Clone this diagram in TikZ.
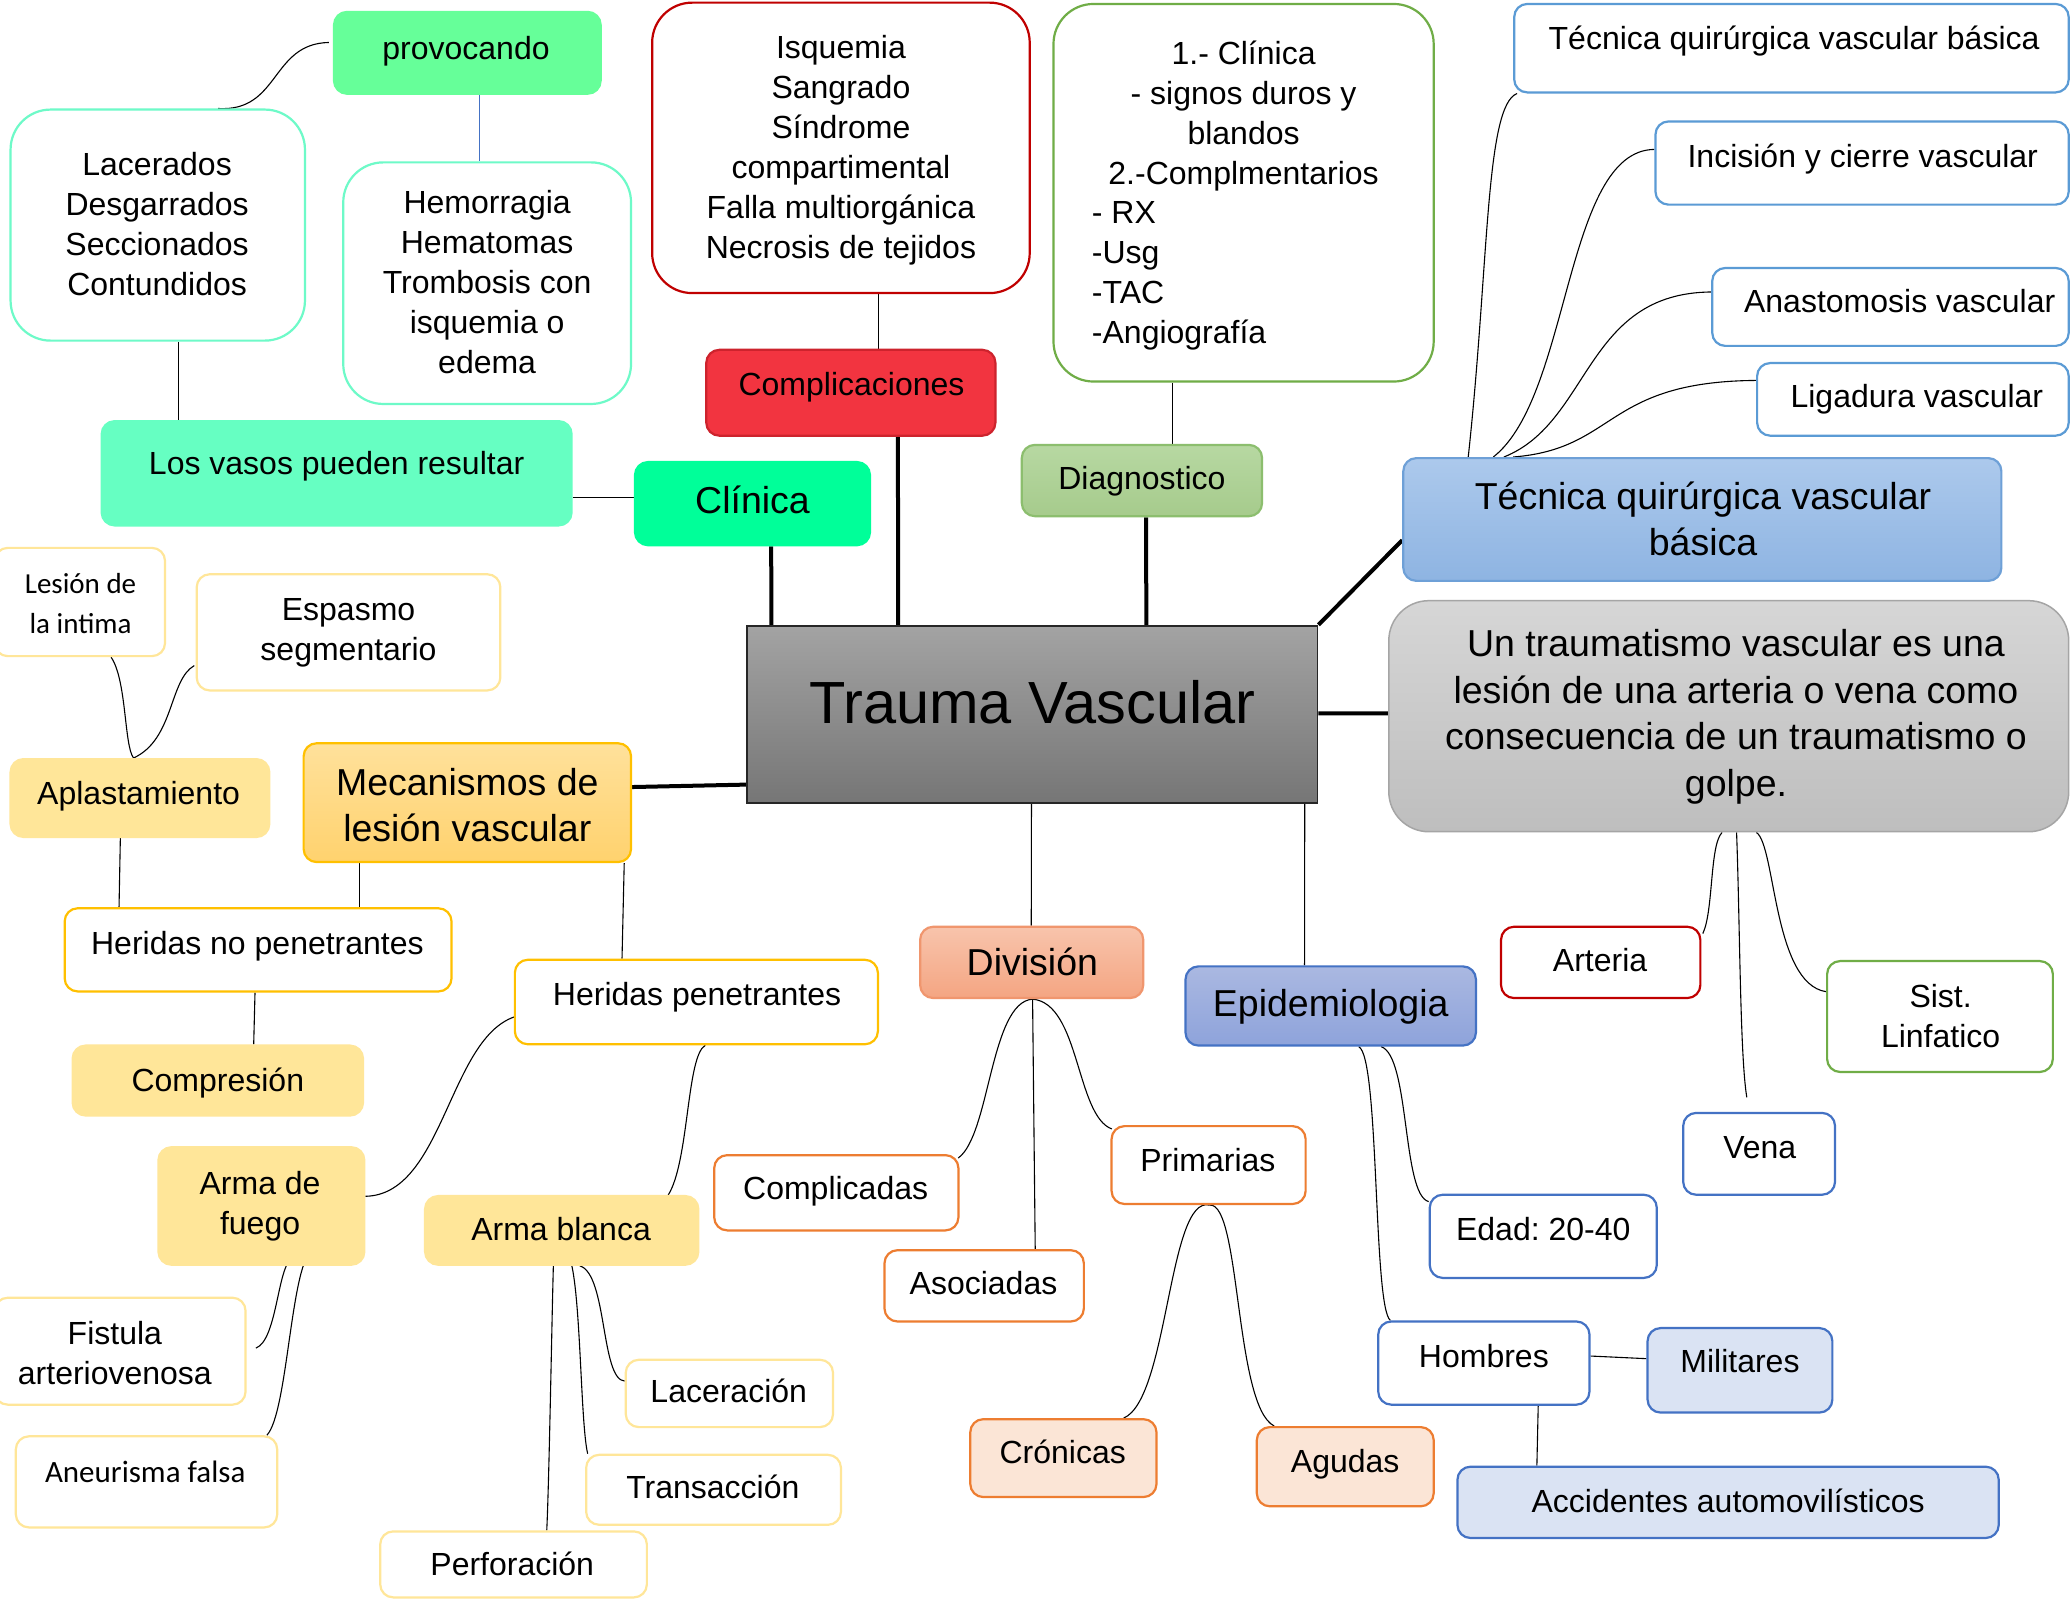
\documentclass[tikz,border=0pt]{standalone}
\usepackage{fontspec}
\setmainfont{Liberation Sans}
\newfontfamily\calfont{Carlito}
\usetikzlibrary{fit,calc}
\pgfdeclarelayer{bg}
\pgfsetlayers{bg,main}
\frenchspacing
\definecolor{provg}{RGB}{102,255,153}
\definecolor{aquab}{RGB}{110,250,200}
\definecolor{vasosf}{RGB}{102,255,194}
\definecolor{clinf}{RGB}{0,255,153}
\definecolor{darkred}{RGB}{192,0,0}
\definecolor{complf}{RGB}{242,52,64}
\definecolor{complb}{RGB}{205,35,45}
\definecolor{greenb}{RGB}{112,173,71}
\definecolor{diagt}{RGB}{183,216,162}
\definecolor{diagbot}{RGB}{166,203,140}
\definecolor{diagd}{RGB}{140,190,110}
\definecolor{lblueb}{RGB}{91,155,213}
\definecolor{tqbt}{RGB}{172,201,236}
\definecolor{tqbb}{RGB}{142,180,226}
\definecolor{tqbd}{RGB}{110,160,215}
\definecolor{traut}{RGB}{163,163,163}
\definecolor{traub}{RGB}{118,118,118}
\definecolor{untrt}{RGB}{214,214,214}
\definecolor{untrb}{RGB}{190,190,190}
\definecolor{untrd}{RGB}{165,165,165}
\definecolor{lyel}{RGB}{255,230,153}
\definecolor{goldb}{RGB}{255,192,0}
\definecolor{mect}{RGB}{255,225,155}
\definecolor{mecb}{RGB}{255,210,110}
\definecolor{divt}{RGB}{248,196,172}
\definecolor{divb}{RGB}{244,165,130}
\definecolor{divd}{RGB}{240,150,110}
\definecolor{orangeb}{RGB}{237,125,49}
\definecolor{lorange}{RGB}{251,229,214}
\definecolor{epit}{RGB}{170,184,225}
\definecolor{epib}{RGB}{142,163,219}
\definecolor{blueb}{RGB}{68,114,196}
\definecolor{lbluef}{RGB}{218,227,243}
\tikzset{
  bx/.style={inner sep=0pt, line width=2.2pt, rounded corners=13pt},
  bigr/.style={rounded corners=40pt},
  txt/.style={inner sep=0pt, align=center, font=\fontsize{32}{40}\selectfont},
  stxt/.style={txt, text height=23pt, text depth=0pt},
  ltxt/.style={inner sep=0pt, align=center, font=\fontsize{37.5}{46.5}\selectfont},
  sltxt/.style={ltxt, text height=27pt, text depth=0pt},
  con/.style={line width=1.1pt, draw=black},
  boldcon/.style={line width=4pt, draw=black},
}
\begin{document}
\begin{tikzpicture}[x=1.3202pt, y=-1.3202pt]
\begin{pgfonlayer}{bg}\fill[white] (0,0) rectangle (1568,1211);\end{pgfonlayer}
\useasboundingbox (0,0) rectangle (1568,1211);

% ---- top left (Clinica branch)
\node[bx, draw=provg, fill=provg, fit={(253,9)(455,71)}] (prov) {};
\node[stxt] (prov-t) at (353,36) {provocando};
\node[bx, bigr, draw=aquab, fill=white, fit={(8,83)(231,258)}] (lac) {};
\node[txt] (lac-t) at (119,170) {Lacerados\\Desgarrados\\Seccionados\\Contundidos};
\node[bx, bigr, draw=aquab, fill=white, fit={(260,123)(478,306)}] (hem) {};
\node[txt] (hem-t) at (369,214) {Hemorragia\\Hematomas\\Trombosis con\\isquemia o\\edema};
\node[bx, draw=vasosf, fill=vasosf, fit={(77,319)(433,398)}] (vasos) {};
\node[stxt] (vasos-t) at (255,351) {Los vasos pueden resultar};
\node[bx, draw=clinf, fill=clinf, fit={(481,350)(659,413)}] (clin) {};
\node[sltxt] (clin-t) at (570,379) {Clínica};

% ---- complicaciones / diagnostico
\node[bx, bigr, draw=darkred, fill=white, fit={(494,2)(780,222)}] (isq) {};
\node[txt] (isq-t) at (637,114) {Isquemia\\Sangrado\\Síndrome\\compartimental\\Falla multiorgánica\\Necrosis de tejidos};
\node[bx, draw=complb, fill=complf, fit={(535,265)(754,330)}] (compl) {};
\node[stxt] (compl-t) at (645,291) {Complicaciones};
\node[bx, bigr, draw=greenb, fill=white, fit={(798,3)(1086,289)}] (dinfo) {};
\node[txt] (dinfo-a) at (942,88) {1.- Clínica\\- signos duros y\\blandos\\2.-Complmentarios};
\node[txt, align=left, anchor=west] (dinfo-b) at (827,209) {- RX\\-Usg\\-TAC\\-Angiografía};
\node[bx, draw=diagd, top color=diagt, bottom color=diagbot, fit={(774,337)(956,391)}] (diagn) {};
\node[stxt] (diagn-t) at (865,362) {Diagnostico};

% ---- tecnica
\node[bx, draw=lblueb, fill=white, fit={(1147,3)(1567,70)}] (tq1) {};
\node[stxt] (tq1-t) at (1359,29) {Técnica quirúrgica vascular básica};
\node[bx, draw=lblueb, fill=white, fit={(1254,92)(1567,155)}] (tq2) {};
\node[stxt] (tq2-t) at (1411,118) {Incisión y cierre vascular};
\node[bx, draw=lblueb, fill=white, fit={(1297,203)(1567,262)}] (tq3) {};
\node[stxt] (tq3-t) at (1439,228) {Anastomosis vascular};
\node[bx, draw=lblueb, fill=white, fit={(1331,275)(1567,330)}] (tq4) {};
\node[stxt] (tq4-t) at (1452,300) {Ligadura vascular};
\node[bx, draw=tqbd, top color=tqbt, bottom color=tqbb, fit={(1063,347)(1516,440)}] (tqb) {};
\node[ltxt] (tqb-t) at (1290,393) {Técnica quirúrgica vascular\\básica};

% ---- centre
\node[inner sep=0pt, line width=1.8pt, draw=black!85, top color=traut, bottom color=traub, fit={(566,474)(998,608)}] (trauma) {};
\node[inner sep=0pt, font=\fontsize{59.5}{70}\selectfont] (trauma-t) at (782,532) {Trauma Vascular};
\node[bx, rounded corners=40pt, line width=1.5pt, draw=untrd, top color=untrt, bottom color=untrb, fit={(1052,455)(1567,630)}] (untr) {};
\node[ltxt] (untr-t) at (1315,543) {Un traumatismo vascular es una\\lesión de una arteria o vena como\\consecuencia de un traumatismo o\\golpe.};

% ---- mecanismos
\node[bx, draw=lyel, fill=white, fit={(-4,415)(125,497)}] (lesion) {};
\node[inner sep=0pt, align=center, font=\calfont\fontsize{29}{40}\selectfont] (lesion-t) at (61,457) {Lesión de\\la intima};
\node[bx, draw=lyel, fill=white, fit={(149,435)(379,523)}] (espasmo) {};
\node[txt] (espasmo-t) at (264,479.5) {Espasmo\\segmentario};
\node[bx, draw=lyel, fill=lyel, fit={(8,575)(204,634)}] (aplas) {};
\node[stxt] (aplas-t) at (105,601) {Aplastamiento};
\node[bx, draw=goldb, top color=mect, bottom color=mecb, fit={(230,563)(478,653)}] (mecan) {};
\node[ltxt] (mecan-t) at (354,610) {Mecanismos de\\lesión vascular};
\node[bx, draw=goldb, fill=white, fit={(49,688)(342,751)}] (hnp) {};
\node[stxt] (hnp-t) at (195,714) {Heridas no penetrantes};
\node[bx, draw=lyel, fill=lyel, fit={(55,792)(275,845)}] (compr) {};
\node[stxt] (compr-t) at (165,818) {Compresión};
\node[bx, draw=goldb, fill=white, fit={(390,727)(665,791)}] (hp) {};
\node[stxt] (hp-t) at (528,753) {Heridas penetrantes};
\node[bx, draw=lyel, fill=lyel, fit={(120,869)(276,958)}] (fuego) {};
\node[txt] (fuego-t) at (197,914) {Arma de\\fuego};
\node[bx, draw=lyel, fill=lyel, fit={(322,906)(529,958)}] (blanca) {};
\node[stxt] (blanca-t) at (425,931) {Arma blanca};
\node[bx, draw=lyel, fill=white, fit={(-4,983)(186,1064)}] (fistula) {};
\node[txt] (fistula-t) at (87,1025) {Fistula\\arteriovenosa};
\node[bx, draw=lyel, fill=white, fit={(12,1088)(210,1157)}] (aneur) {};
\node[inner sep=0pt, font=\calfont\fontsize{31}{40}\selectfont] (aneur-t) at (110,1115) {Aneurisma falsa};
\node[bx, draw=lyel, fill=white, fit={(474,1030)(631,1081)}] (lacer) {};
\node[stxt] (lacer-t) at (552,1054) {Laceración};
\node[bx, draw=lyel, fill=white, fit={(444,1102)(637,1155)}] (trans) {};
\node[stxt] (trans-t) at (540,1126) {Transacción};
\node[bx, draw=lyel, fill=white, fit={(288,1160)(490,1210)}] (perf) {};
\node[stxt] (perf-t) at (388,1185) {Perforación};

% ---- division
\node[bx, draw=divd, top color=divt, bottom color=divb, fit={(697,702)(866,756)}] (divi) {};
\node[sltxt] (divi-t) at (782,729) {División};
\node[bx, draw=orangeb, fill=white, fit={(541,875)(726,932)}] (compli) {};
\node[stxt] (compli-t) at (633,900) {Complicadas};
\node[bx, draw=orangeb, fill=white, fit={(670,947)(821,1001)}] (asoc) {};
\node[stxt] (asoc-t) at (745,972) {Asociadas};
\node[bx, draw=orangeb, fill=white, fit={(842,853)(989,912)}] (prim) {};
\node[stxt] (prim-t) at (915,879) {Primarias};
\node[bx, draw=orangeb, fill=lorange, fit={(735,1075)(876,1134)}] (cron) {};
\node[stxt] (cron-t) at (805,1100) {Crónicas};
\node[bx, draw=orangeb, fill=lorange, fit={(952,1081)(1086,1141)}] (agud) {};
\node[stxt] (agud-t) at (1019,1107) {Agudas};

% ---- epidemiologia
\node[bx, draw=blueb, top color=epit, bottom color=epib, fit={(898,732)(1118,792)}] (epid) {};
\node[sltxt] (epid-t) at (1008,760) {Epidemiologia};
\node[bx, draw=blueb, fill=white, fit={(1083,905)(1255,968)}] (edad) {};
\node[stxt] (edad-t) at (1169,931) {Edad: 20-40};
\node[bx, draw=blueb, fill=white, fit={(1044,1001)(1204,1064)}] (homb) {};
\node[stxt] (homb-t) at (1124,1027) {Hombres};
\node[bx, draw=blueb, fill=lbluef, fit={(1248,1006)(1388,1070)}] (milit) {};
\node[stxt] (milit-t) at (1318,1031) {Militares};
\node[bx, draw=blueb, fill=lbluef, fit={(1104,1111)(1514,1165)}] (accid) {};
\node[stxt] (accid-t) at (1309,1137) {Accidentes automovilísticos};

% ---- vessels
\node[bx, draw=darkred, fill=white, fit={(1137,702)(1288,756)}] (arteria) {};
\node[stxt] (arteria-t) at (1212,727) {Arteria};
\node[bx, draw=blueb, fill=white, fit={(1275,843)(1390,905)}] (vena) {};
\node[stxt] (vena-t) at (1333,869) {Vena};
\node[bx, draw=greenb, fill=white, fit={(1384,728)(1555,812)}] (sist) {};
\node[txt] (sist-t) at (1470,770) {Sist.\\Linfatico};

% ---- connectors
\begin{pgfonlayer}{bg}
\draw[con, draw=blueb] ($(prov.south west)+(111,0)$) -- ($(hem.north west)+(104,0)$);
\draw[con] ($(prov.north west)+(-3,24)$) .. controls (205,33) and (212,85) .. ($(lac.north west)+(158,0)$);
\draw[con] ($(lac.south west)+(128,0)$) -- ($(vasos.north west)+(59,0)$);
\draw[con] ($(vasos.south east)+(0,-22)$) -- ($(clin.south west)+(0,-37)$);
\draw[boldcon] ($(clin.south west)+(104,0)$) -- ($(trauma.north west)+(19,0)$);
\draw[con] ($(isq.south west)+(172,0)$) -- ($(compl.north west)+(131,0)$);
\draw[boldcon] ($(compl.south west)+(146,0)$) -- ($(trauma.north west)+(115,0)$);
\draw[con] ($(dinfo.south west)+(91,0)$) -- ($(diagn.north west)+(115,0)$);
\draw[boldcon] ($(diagn.south west)+(95,0)$) -- ($(trauma.north west)+(303,0)$);
\draw[boldcon] (trauma.north east) -- ($(tqb.north west)+(0,63)$);
\draw[boldcon] ($(trauma.north east)+(0,67)$) -- ($(untr.north west)+(0,86)$);
\draw[boldcon] ($(mecan.north east)+(0,34)$) -- ($(trauma.north west)+(0,121)$);
\draw[con] ($(tqb.north west)+(50,0)$) .. controls (1128,200) and (1125,80) .. ($(tq1.south west)+(3,0)$);
\draw[con] ($(tqb.north west)+(69,0)$) .. controls (1190,300) and (1185,114) .. ($(tq2.north west)+(0,22)$);
\draw[con] ($(tqb.north west)+(77,0)$) .. controls (1205,320) and (1200,222) .. ($(tq3.north west)+(0,19)$);
\draw[con] ($(tqb.north west)+(84,0)$) .. controls (1225,340) and (1215,289) .. ($(tq4.north west)+(0,14)$);
\draw[con] ($(lesion.south west)+(89,0)$) .. controls (96,515) and (94,565) .. ($(aplas.north west)+(94,0)$);
\draw[con] ($(espasmo.north west)+(-1,70)$) .. controls (128,515) and (132,560) .. ($(aplas.north west)+(94,0)$);
\draw[con] ($(aplas.south west)+(84,0)$) -- ($(hnp.north west)+(42,0)$);
\draw[con] ($(mecan.south west)+(43,-6)$) -- ($(hnp.north west)+(224,0)$);
\draw[con] ($(hnp.south west)+(145,0)$) -- ($(compr.north west)+(138,0)$);
\draw[con] ($(mecan.south east)+(-6,0)$) -- ($(hp.north west)+(82,0)$);
\draw[con] ($(hp.north west)+(12,42)$) .. controls (340,770) and (340,905) .. ($(fuego.north east)+(0,38)$);
\draw[con] ($(hp.south west)+(145,0)$) .. controls (520,800) and (522,880) .. ($(blanca.north west)+(185,0)$);
\draw[con] ($(fuego.south west)+(102,-6)$) .. controls (210,960) and (210,1015) .. ($(fistula.north east)+(7,39)$);
\draw[con] ($(fuego.south west)+(117,-12)$) .. controls (220,960) and (218,1070) .. ($(aneur.north west)+(191,0)$);
\draw[con] ($(blanca.south west)+(98,0)$) .. controls (418,1000) and (416,1120) .. ($(perf.north west)+(127,0)$);
\draw[con] ($(blanca.south west)+(112,0)$) .. controls (440,990) and (440,1080) .. ($(trans.north west)+(2,0)$);
\draw[con] ($(blanca.south west)+(118,0)$) .. controls (460,965) and (455,1045) .. ($(lacer.north west)+(0,17)$);
\draw[con] ($(trauma.south west)+(216,0)$) -- ($(divi.north west)+(85,0)$);
\draw[con] ($(trauma.south west)+(423,0)$) -- ($(epid.north west)+(91,0)$);
\draw[con] ($(divi.south west)+(86,0)$) .. controls (750,759) and (750,860) .. ($(compli.north east)+(-1,3)$);
\draw[con] ($(divi.south west)+(86,0)$) -- ($(asoc.north west)+(115,0)$);
\draw[con] ($(divi.south west)+(86,0)$) .. controls (818,760) and (815,845) .. ($(prim.north west)+(1,3)$);
\draw[con] ($(prim.south west)+(75,0)$) .. controls (885,905) and (885,1060) .. ($(cron.north west)+(117,0)$);
\draw[con] ($(prim.south west)+(75,0)$) .. controls (940,910) and (935,1065) .. ($(agud.north west)+(14,0)$);
\draw[con] ($(epid.south west)+(132,0)$) .. controls (1045,800) and (1040,990) .. ($(homb.north west)+(10,0)$);
\draw[con] ($(epid.south west)+(149,0)$) .. controls (1068,800) and (1062,905) .. ($(edad.north west)+(0,6)$);
\draw[con] ($(homb.north east)+(0,27)$) -- ($(milit.north west)+(0,24)$);
\draw[con] ($(homb.south west)+(122,0)$) -- ($(accid.north west)+(61,0)$);
\draw[con] ($(untr.south west)+(253,0)$) .. controls (1295,640) and (1298,690) .. ($(arteria.north east)+(1,6)$);
\draw[con] ($(untr.south west)+(264,0)$) .. controls (1318,700) and (1318,800) .. ($(vena.north west)+(49,-11)$);
\draw[con] ($(untr.south west)+(279,0)$) .. controls (1345,640) and (1343,745) .. ($(sist.north west)+(0,24)$);
\end{pgfonlayer}
\end{tikzpicture}
\end{document}
